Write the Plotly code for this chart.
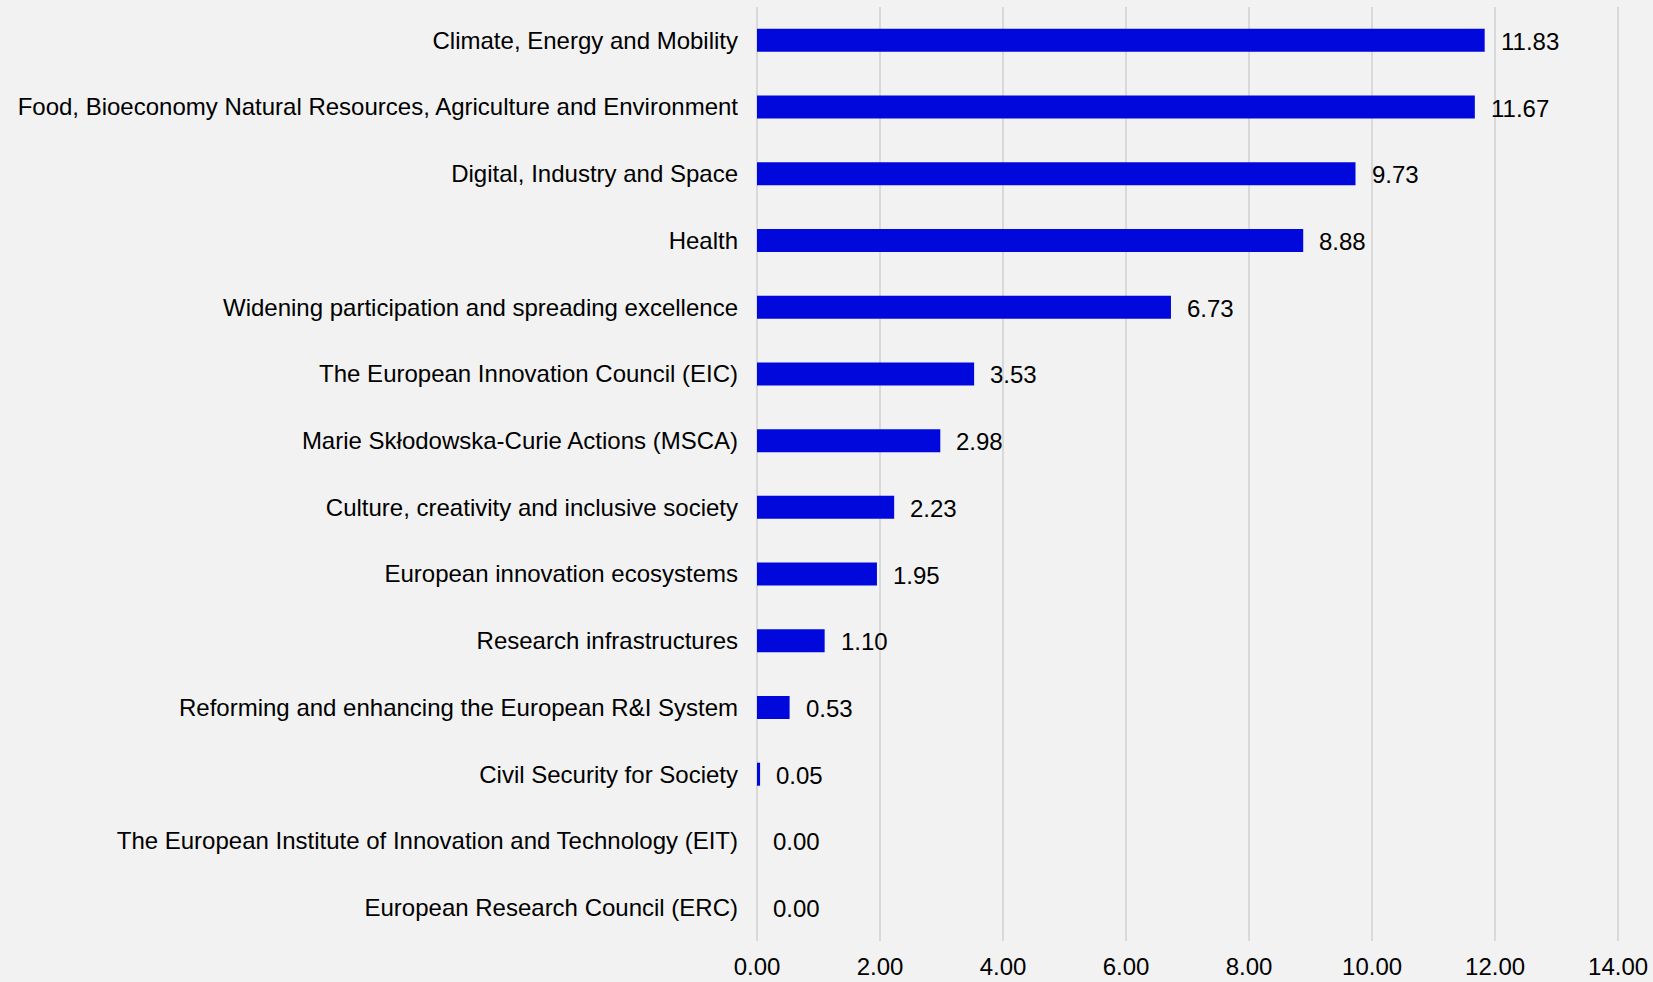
import plotly.graph_objects as go

categories = [
    "Climate, Energy and Mobility",
    "Food, Bioeconomy Natural Resources, Agriculture and Environment",
    "Digital, Industry and Space",
    "Health",
    "Widening participation and spreading excellence",
    "The European Innovation Council (EIC)",
    "Marie Skłodowska-Curie Actions (MSCA)",
    "Culture, creativity and inclusive society",
    "European innovation ecosystems",
    "Research infrastructures",
    "Reforming and enhancing the European R&I System",
    "Civil Security for Society",
    "The European Institute of Innovation and Technology (EIT)",
    "European Research Council (ERC)",
]
values = [11.83, 11.67, 9.73, 8.88, 6.73, 3.53, 2.98, 2.23, 1.95, 1.10, 0.53, 0.05, 0.00, 0.00]
tick_vals = [0, 2, 4, 6, 8, 10, 12, 14]
tick_text = ["0.00", "2.00", "4.00", "6.00", "8.00", "10.00", "12.00", "14.00"]

FONT = "Liberation Sans, Arial, sans-serif"
FS = 24

fig = go.Figure()
fig.add_trace(go.Bar(
    x=values, y=categories, orientation="h",
    marker=dict(color="#0008DC", line=dict(width=0)),
    hoverinfo="x+y",
))

for c, v in zip(categories, values):
    fig.add_annotation(x=v, y=c, text=f"{v:.2f}", showarrow=False,
                       xanchor="left", yanchor="middle", xshift=14, yshift=-1,
                       font=dict(family=FONT, size=FS, color="#000000"))

fig.update_layout(
    width=1653, height=982,
    paper_bgcolor="#F2F2F2", plot_bgcolor="#F2F2F2",
    margin=dict(l=757, r=33, t=7, b=41),
    bargap=0.655,
    showlegend=False,
    font=dict(family=FONT, size=FS, color="#000000"),
)
fig.update_xaxes(range=[0, 14.03], tickvals=tick_vals, ticktext=tick_text,
                 showgrid=True, gridcolor="#D9D9D9", gridwidth=2,
                 zeroline=True, zerolinecolor="#D9D9D9", zerolinewidth=2,
                 showline=False, ticks="", ticklabelstandoff=9, automargin=False,
                 tickfont=dict(family=FONT, size=FS, color="#000000"))
fig.update_yaxes(autorange="reversed", showgrid=False, zeroline=False,
                 showline=False, ticks="", ticklabelstandoff=18, automargin=False,
                 tickfont=dict(family=FONT, size=FS, color="#000000"))

fig.write_html("out.html", config={"displayModeBar": False},
               post_script="document.body.style.margin='0';document.body.style.background='#F2F2F2';")
